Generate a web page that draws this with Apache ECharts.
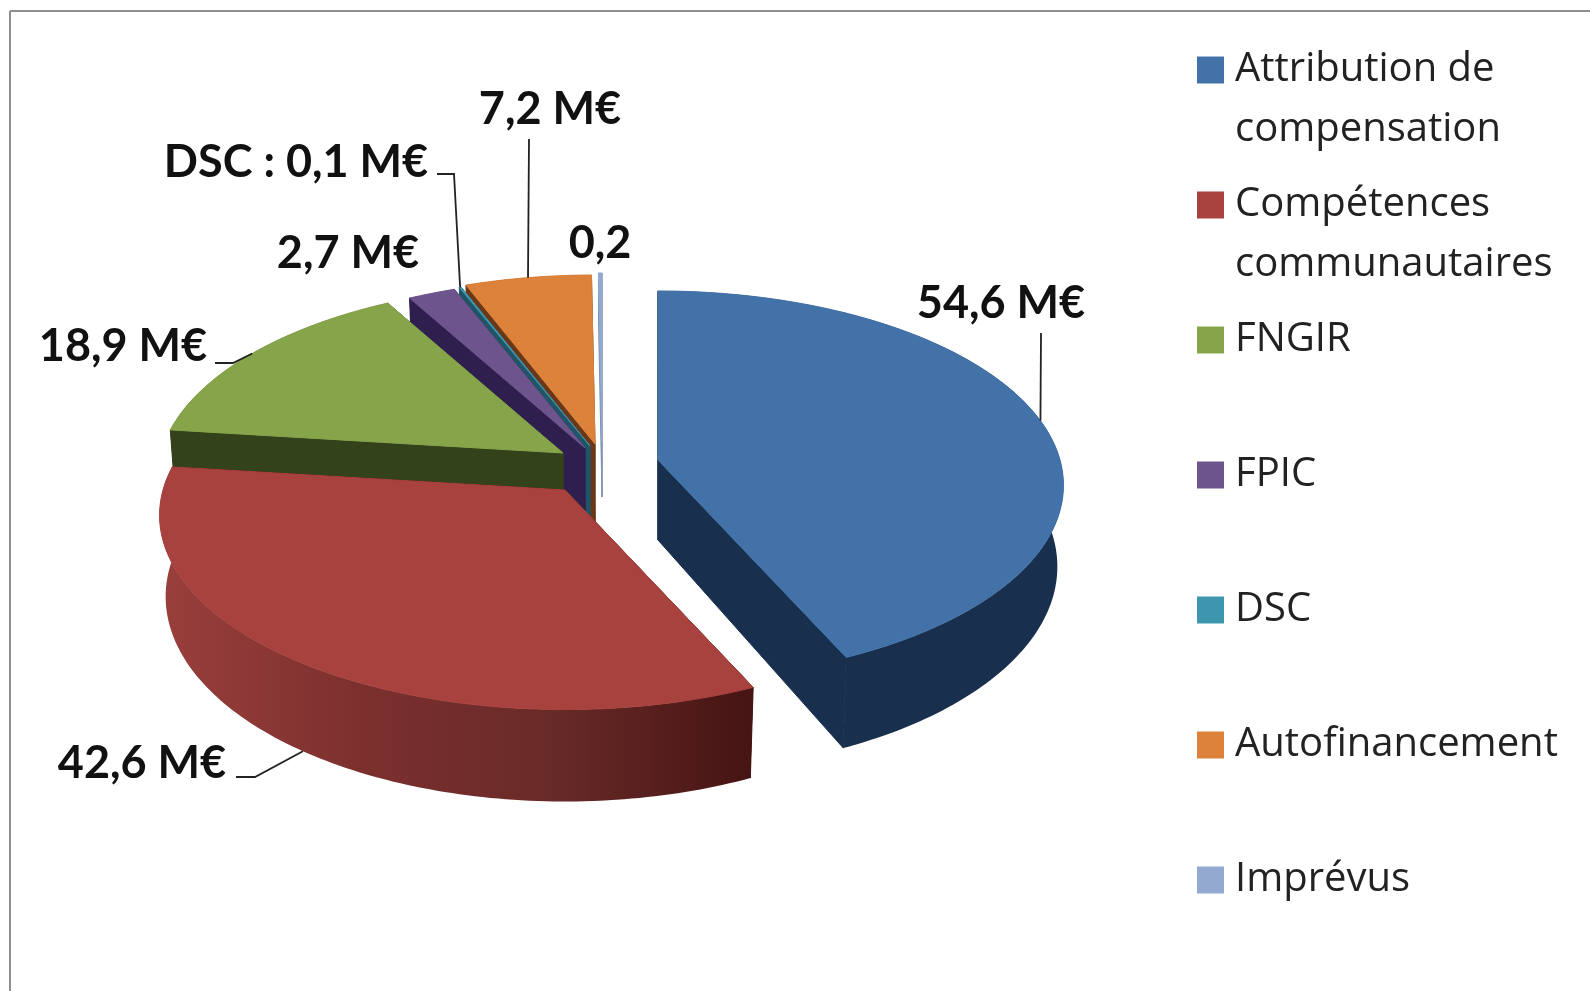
<!DOCTYPE html>
<html>
<head>
<meta charset="utf-8">
<style>html,body{margin:0;padding:0;background:#fff}#chart{width:1590px;height:991px}</style>
<script src="https://cdn.jsdelivr.net/npm/echarts@6/dist/echarts.min.js"></script>
</head>
<body>
<div id="chart"></div>
<script>
// données
const categories = ['Attribution de compensation', 'Compétences communautaires', 'FNGIR', 'FPIC', 'DSC', 'Autofinancement', 'Imprévus'];
const legendLines = [['Attribution de', 'compensation'], ['Compétences', 'communautaires'], ['FNGIR'], ['FPIC'], ['DSC'], ['Autofinancement'], ['Imprévus']];
const values = [54.6, 42.6, 18.9, 2.7, 0.1, 7.2, 0.2];
const valueLabels = ['54,6 M€', '42,6 M€', '18,9 M€', '2,7 M€', 'DSC : 0,1 M€', '7,2 M€', '0,2'];

// couleurs
const topColors = ['#4372A8', '#A8423F', '#86A44A', '#6E548D', '#3D96AE', '#DC823A', '#93A9CF'];
const sideColors = ['#182F4D', ['#9A3F3C', '#7C302E', '#682A28', '#451413'], '#34421B', '#2E1F4E', '#1F5566', '#6B3716', '#7F93B5'];

// géométrie du camembert en perspective
const RX = 402, RY = 191, K = 0.13, BOTTOM_SCALE = 0.985;
const PIE_X = 585, PIE_Y = 446;
const sliceShift = [[73, 14], [-20, 44], [-22, 7], [0, 2], [5, 0], [10, -2], [17, -4]];
const sliceDepth = [80, 80, 80, 80, 80, 80, 55];
const drawOrder = [5, 6, 4, 3, 2, 1, 0];

// étiquettes : centre du texte, coudes du trait de rappel, ancrage sur le bas du flanc ou non
const labelPos = [[1001, 303], [142, 763], [123, 346], [348, 253], [296, 162], [550, 109], [600, 243]];
const leaderBends = [[[1041, 333]], [[236, 777], [255, 777]], [[215, 363], [233, 363]], null, [[437, 174], [454, 174]], [[529, 139]], null];
const leaderOnBase = [false, true, false, false, false, false, false];

const total = values.reduce((a, b) => a + b, 0);
const startAngles = [];
values.reduce((acc, v, i) => { startAngles[i] = acc; return acc + v / total * 360; }, 0);

function rimPoint(i, deg, base) {
  const th = deg * Math.PI / 180;
  const u = Math.sin(th), v = -Math.cos(th), den = 1 - K * v;
  const cx = PIE_X + sliceShift[i][0], cy = PIE_Y + sliceShift[i][1];
  let x = RX * u / den, y = RY * v / den;
  if (base) { x *= BOTTOM_SCALE; y += sliceDepth[i] / den; }
  return [cx + x, cy + y];
}

function apexPoint(i, base) {
  return [PIE_X + sliceShift[i][0], PIE_Y + sliceShift[i][1] + (base ? sliceDepth[i] : 0)];
}

function sideFill(i) {
  const c = sideColors[i];
  if (!Array.isArray(c)) return c;
  return new echarts.graphic.LinearGradient(0, 0, 1, 0, c.map((color, n) => ({ offset: n / (c.length - 1), color })));
}

function renderSlice(i, value) {
  const a0 = startAngles[i], a1 = a0 + value / total * 360;
  const steps = Math.max(2, Math.ceil(a1 - a0));
  const rim = [], base = [];
  for (let s = 0; s <= steps; s++) {
    const a = a0 + (a1 - a0) * s / steps;
    rim.push(rimPoint(i, a, false));
    base.push(rimPoint(i, a, true));
  }
  const flat = sideColors[i];
  const edgeColor = Array.isArray(flat) ? flat[flat.length - 1] : flat;
  const face = (points, fill, stroke) => ({ type: 'polygon', shape: { points }, style: { fill, stroke, lineWidth: 1 } });
  const apex = apexPoint(i, false), apexB = apexPoint(i, true);
  const children = [
    face([apex, rim[0], base[0], apexB], edgeColor, edgeColor),
    face([apex, rim[steps], base[steps], apexB], edgeColor, edgeColor),
    face(rim.concat(base.slice().reverse()), sideFill(i), null),
    face([apex].concat(rim), topColors[i], topColors[i])
  ];
  // trait de rappel
  if (leaderBends[i]) {
    const mid = (a0 + a1) / 2;
    children.push({
      type: 'polyline',
      shape: { points: leaderBends[i].concat([rimPoint(i, mid, leaderOnBase[i])]) },
      style: { stroke: '#222', lineWidth: 1.8, fill: null }
    });
  }
  children.push({
    type: 'text',
    style: {
      text: valueLabels[i], x: labelPos[i][0], y: labelPos[i][1],
      align: 'center', verticalAlign: 'middle',
      fontFamily: 'Lato', fontWeight: 700, fontSize: 45, fill: '#111'
    }
  });
  return { type: 'group', children };
}

const chart = echarts.init(document.getElementById('chart'));
chart.setOption({
  animation: false,
  backgroundColor: '#fff',
  graphic: [
    { type: 'line', silent: true, shape: { x1: 10, y1: 11, x2: 1590, y2: 11 }, style: { stroke: '#8f8f8f', lineWidth: 2 } },
    { type: 'line', silent: true, shape: { x1: 10, y1: 11, x2: 10, y2: 991 }, style: { stroke: '#8f8f8f', lineWidth: 2 } }
  ],
  legend: {
    orient: 'vertical', left: 1197, top: -20,
    data: categories, icon: 'rect', selectedMode: false,
    itemWidth: 27, itemHeight: 27, itemGap: -45,
    padding: 0,
    formatter: name => {
      const lines = legendLines[categories.indexOf(name)];
      return ' \n' + lines[0] + '\n' + (lines[1] || ' ');
    },
    textStyle: { fontFamily: 'Open Sans', fontSize: 40, lineHeight: 60, color: '#222', padding: [0, 0, 0, 6] }
  },
  series: drawOrder.map(i => ({
    type: 'custom',
    name: categories[i],
    coordinateSystem: 'none',
    itemStyle: { color: topColors[i] },
    data: [values[i]],
    renderItem: (params, api) => renderSlice(i, api.value(0))
  }))
});
</script>
</body>
</html>
